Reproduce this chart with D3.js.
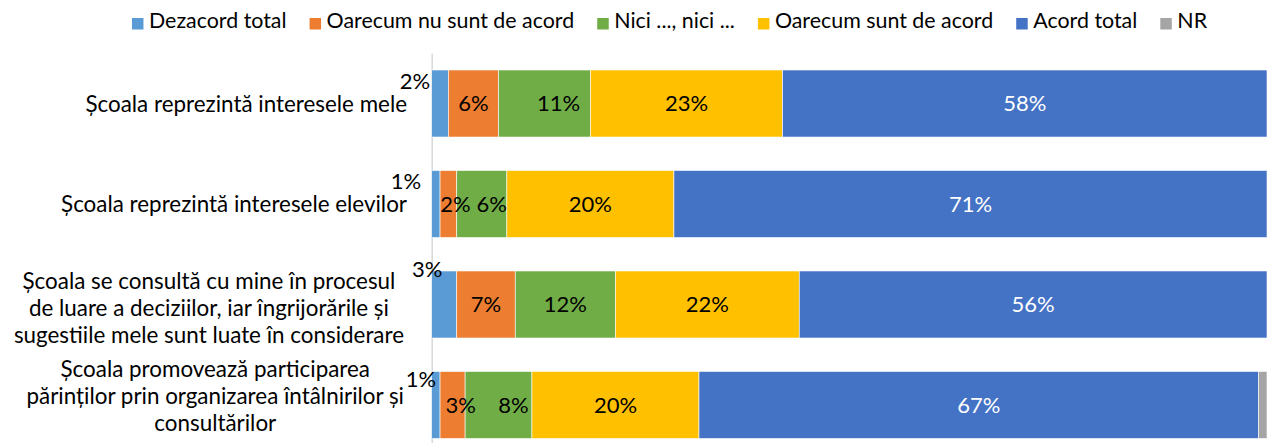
<!DOCTYPE html>
<html lang="ro">
<head>
<meta charset="UTF-8">
<title>Școala - acord</title>
<style>
  body { margin: 0; background: #fff; font-family: Lato, "Open Sans", sans-serif; overflow: hidden; }
  svg text { fill: #000; }
</style>
</head>
<body>
<svg id="chart" width="1284" height="443"></svg>
<script src="https://d3js.org/d3.v7.min.js"></script>
<script>
// categories, one line per entry
const categories = [
  ["Școala reprezintă interesele mele"],
  ["Școala reprezintă interesele elevilor"],
  ["Școala se consultă cu mine în procesul", "de luare a deciziilor, iar îngrijorările și", "sugestiile mele sunt luate în considerare"],
  ["Școala promovează participarea", "părinților prin organizarea întâlnirilor și", "consultărilor"]
];
const seriesNames = ["Dezacord total", "Oarecum nu sunt de acord", "Nici ..., nici ...", "Oarecum sunt de acord", "Acord total", "NR"];
const dezacordTotal = [2, 1, 3, 1];
const oarecumNu = [6, 2, 7, 3];
const niciNici = [11, 6, 12, 8];
const oarecumDa = [23, 20, 22, 20];
const acordTotal = [58, 71, 56, 67];
const nr = [0, 0, 0, 1];

const colors = ["#5B9BD5", "#ED7D31", "#70AD47", "#FFC000", "#4472C4", "#A5A5A5"];

// hand-placed label nudges (as in the original), [dx, dy] per row/series
const labelNudge = [
  [[-25, -22], [0, 0], [14, 0], [0, 0], [0, 0]],
  [[-30, -23], [7, 0], [10, 0], [0, 0], [0, 0]],
  [[-17, -35], [0, 0], [0, 0], [0, 0], [0, 0]],
  [[-15, -26], [8, 0], [15, 0], [0, 0], [0, 0]]
];
const catNudge = [0, 0, 3, -9];

const svg = d3.select("#chart");
const keys = seriesNames;
const cols = [dezacordTotal, oarecumNu, niciNici, oarecumDa, acordTotal, nr];
const rows = categories.map((c, i) => {
  const r = { id: i };
  keys.forEach((k, j) => r[k] = cols[j][i]);
  return r;
});

const x = d3.scaleLinear().domain([0, 100]).range([431.7, 1267]);
const y = d3.scaleBand().domain(d3.range(categories.length))
  .range([53.25, 455.25]).paddingInner(0.333).paddingOuter(0.1667);

const stack = d3.stack().keys(keys)(rows);

const g = svg.append("g");

// vertical axis line
g.append("g")
  .attr("transform", `translate(${x(0)},0)`)
  .call(d3.axisLeft(y).tickSize(0).tickFormat(""))
  .call(a => a.select(".domain").attr("stroke", "#D9D9D9").attr("stroke-width", 1.5));

const layer = g.selectAll(".layer").data(stack).join("g")
  .attr("class", "layer")
  .attr("fill", (d, i) => colors[i]);

layer.selectAll("rect").data(d => d).join("rect")
  .attr("x", d => x(d[0]))
  .attr("y", (d, i) => y(i))
  .attr("width", d => x(d[1]) - x(d[0]))
  .attr("height", y.bandwidth())
  .attr("stroke", "#fff")
  .attr("stroke-width", 0.6);

// data labels
stack.forEach((s, si) => {
  if (keys[si] === "NR") return;
  s.forEach((d, ri) => {
    const v = d[1] - d[0];
    if (!v) return;
    const nudge = labelNudge[ri][si];
    const cx = (x(d[0]) + x(d[1])) / 2 + nudge[0];
    const cy = y(ri) + y.bandwidth() / 2 + nudge[1];
    g.append("text")
      .attr("x", cx)
      .attr("y", cy)
      .attr("dy", "0.36em")
      .attr("text-anchor", "middle")
      .attr("font-size", 22)
      .style("fill", keys[si] === "Acord total" ? "#fff" : "#000")
      .text(v + "%");
  });
});

// category labels, centred block ending near the axis
const labelRight = 404;
categories.forEach((lines, i) => {
  const t = g.append("text").attr("font-size", 22.4).attr("text-anchor", "middle");
  const lh = 27;
  const cy = y(i) + y.bandwidth() / 2 + catNudge[i] - (lines.length - 1) * lh / 2;
  lines.forEach((ln, k) => {
    t.append("tspan").attr("y", cy + k * lh).attr("dy", "0.36em").text(ln);
  });
  const w = d3.max(t.selectAll("tspan").nodes(), n => n.getComputedTextLength());
  t.selectAll("tspan").attr("x", (lines.length === 1 ? labelRight + 3 : labelRight) - w / 2);
});

// legend
const legend = svg.append("g");
let lx = 0;
keys.forEach((k, i) => {
  const item = legend.append("g").attr("transform", `translate(${lx},0)`);
  item.append("rect").attr("x", 0).attr("y", 18).attr("width", 11.5).attr("height", 11.5).attr("fill", colors[i]);
  const t = item.append("text").attr("x", 17).attr("y", 27.5).attr("font-size", 21.4).text(k);
  lx += 17 + t.node().getComputedTextLength() + 23;
});
const legendW = lx - 23;
legend.attr("transform", `translate(${669.5 - legendW / 2},0)`);
</script>
</body>
</html>
